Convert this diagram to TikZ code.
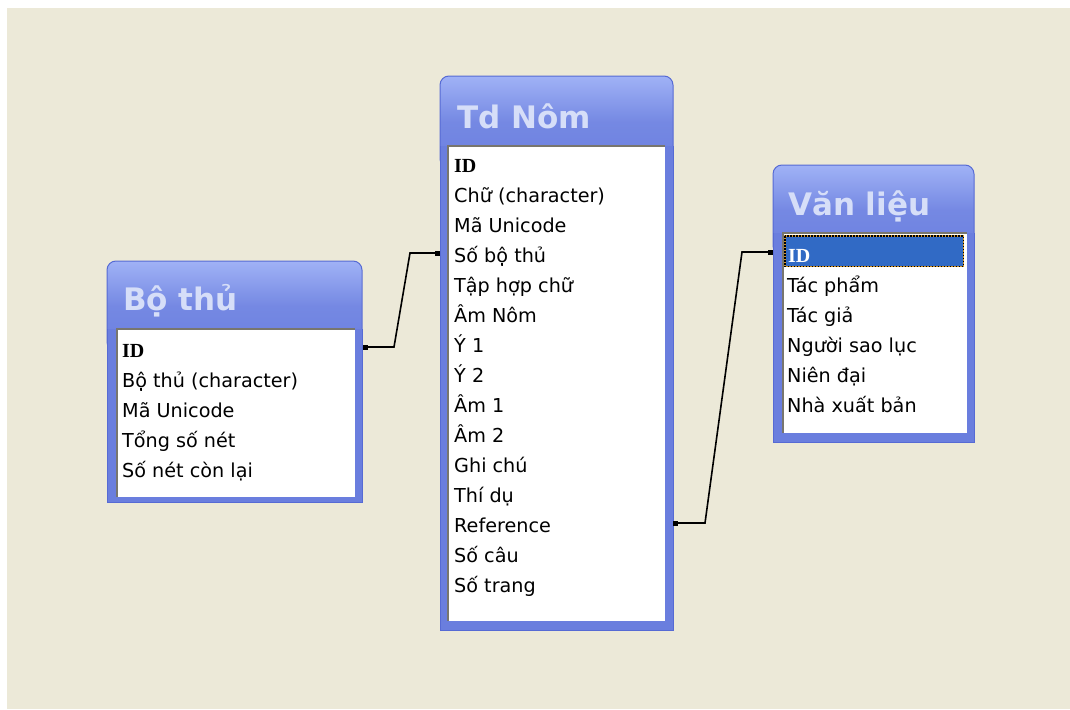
\documentclass[tikz,border=0pt]{standalone}
\usepackage{fontspec}
\setmainfont{DejaVu Sans}
\newfontfamily\idfont{Liberation Serif}
\definecolor{bg}{RGB}{236,233,216}
\definecolor{frameblue}{RGB}{106,126,222}
\definecolor{frameedge}{RGB}{86,106,212}
\definecolor{titletop}{RGB}{160,178,246}
\definecolor{titlebot}{RGB}{108,128,224}
\definecolor{titletext}{RGB}{214,222,248}
\definecolor{sel}{RGB}{49,106,197}
\definecolor{sunk}{RGB}{120,118,110}
\definecolor{selborder}{RGB}{214,150,40}
\tikzset{
  winbox/.style={anchor=north west, inner sep=0pt, outer sep=0pt, draw=none},
  framefill/.style={fill=frameblue},
  frameline/.style={draw=frameedge, line width=1pt},
  titlebar/.style={top color=titletop, bottom color=titlebot, middle color=frameblue!80!titletop, draw=frameedge, line width=1pt, rounded corners=9pt},
  listbox/.style={anchor=north west, inner sep=0pt, outer sep=0pt, fill=white},
  sunken/.style={draw=sunk, line width=1.5pt},
  titletxt/.style={anchor=base west, inner sep=0pt, text=titletext, font=\fontsize{31}{31}\selectfont\bfseries},
  row/.style={anchor=base west, inner sep=0pt, font=\fontsize{19.2}{19.2}\selectfont},
  idrow/.style={anchor=base west, inner sep=0pt, font=\fontsize{20}{20}\selectfont\idfont\bfseries},
  conn/.style={draw=black, line width=1.6pt},
  endsq/.style={fill=black, inner sep=0pt, minimum size=5pt}
}
\begin{document}
\begin{tikzpicture}[x=1pt,y=-1pt]
\useasboundingbox (0,0) rectangle (1070,709);
\fill[white] (0,0) rectangle (1070,709);
\fill[bg] (7,8) rectangle (1070,709);

% ---------- Bo thu ----------
\node[winbox, minimum width=255pt, minimum height=241pt] (bt) at (107,261) {};
\shade[titlebar] (bt.north west) rectangle ([yshift=-90pt]bt.north east);
\fill[framefill] ([yshift=-68pt]bt.north west) rectangle (bt.south east);
\draw[frameline] ([yshift=-68pt]bt.north west) -- (bt.south west) -- (bt.south east) -- ([yshift=-68pt]bt.north east);
\node[listbox, minimum width=238pt, minimum height=168pt] (btl) at (117,329) {};
\draw[sunken] (btl.south west) -- (btl.north west) -- (btl.north east);
\node[titletxt] (btt) at (123,310) {Bộ thủ};
\node[idrow] (bt0) at (122,357) {ID};
\foreach \t [count=\i] in {Bộ thủ (character),Mã Unicode,Tổng số nét,Số nét còn lại}
  \node[row] (bt\i) at (122,357+30*\i) {\t};

% ---------- Td Nom ----------
\node[winbox, minimum width=233pt, minimum height=554pt] (td) at (440,76) {};
\shade[titlebar] (td.north west) rectangle ([yshift=-92pt]td.north east);
\fill[framefill] ([yshift=-70pt]td.north west) rectangle (td.south east);
\draw[frameline] ([yshift=-70pt]td.north west) -- (td.south west) -- (td.south east) -- ([yshift=-70pt]td.north east);
\node[listbox, minimum width=217pt, minimum height=475pt] (tdl) at (448,146) {};
\draw[sunken] (tdl.south west) -- (tdl.north west) -- (tdl.north east);
\node[titletxt] (tdt) at (457,128) {Td Nôm};
\node[idrow] (td0) at (454,172) {ID};
\foreach \t [count=\i] in {Chữ (character),Mã Unicode,Số bộ thủ,Tập hợp chữ,Âm Nôm,Ý 1,Ý 2,Âm 1,Âm 2,Ghi chú,Thí dụ,Reference,Số câu,Số trang}
  \node[row] (td\i) at (454,172+30*\i) {\t};

% ---------- Van lieu ----------
\node[winbox, minimum width=201pt, minimum height=277pt] (vl) at (773,165) {};
\shade[titlebar] (vl.north west) rectangle ([yshift=-90pt]vl.north east);
\fill[framefill] ([yshift=-68pt]vl.north west) rectangle (vl.south east);
\draw[frameline] ([yshift=-68pt]vl.north west) -- (vl.south west) -- (vl.south east) -- ([yshift=-68pt]vl.north east);
\node[listbox, minimum width=184pt, minimum height=200pt] (vll) at (783,233) {};
\draw[sunken] (vll.south west) -- (vll.north west) -- (vll.north east);
\node[titletxt] (vlt) at (788,215) {Văn liệu};
\node[anchor=north west, inner sep=0pt, fill=sel, minimum width=178pt, minimum height=30pt] (vlsel) at (785,236) {};
\draw[selborder, line width=1.5pt] (vlsel.north west) rectangle (vlsel.south east);
\draw[black, line width=1.5pt, dash pattern=on 1.5pt off 1.5pt] (vlsel.north west) rectangle (vlsel.south east);
\node[idrow, text=white] (vl0) at (788,262) {ID};
\foreach \t [count=\i] in {Tác phẩm,Tác giả,Người sao lục,Niên đại,Nhà xuất bản}
  \node[row] (vl\i) at (787,262+30*\i) {\t};

% ---------- connectors ----------
\coordinate (c1a) at (365,347);
\coordinate (c1b) at (437,253);
\draw[conn] (c1a) -- ++(29,0) -- ([xshift=-27pt]c1b) -- (c1b);
\node[endsq] (s1a) at (c1a) {};
\node[endsq] (s1b) at (c1b) {};

\coordinate (c2a) at (675,523);
\coordinate (c2b) at (770,252);
\draw[conn] (c2a) -- ++(30,0) -- ([xshift=-28pt]c2b) -- (c2b);
\node[endsq] (s2a) at (c2a) {};
\node[endsq] (s2b) at (c2b) {};
\end{tikzpicture}
\end{document}
